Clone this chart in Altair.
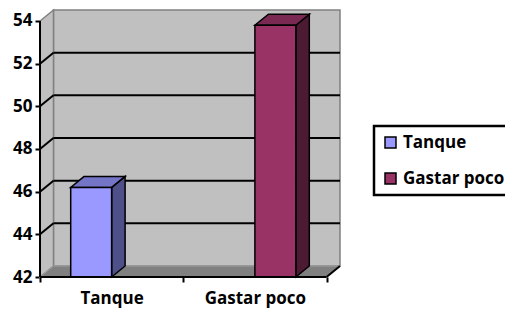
import altair as alt
import pandas as pd

# ---- data ----
categories = ["Tanque", "Gastar poco"]
series_names = ["Tanque", "Gastar poco"]
values_tanque = [46.2, None]
values_gastar = [None, 53.8]
y_ticks = [42, 44, 46, 48, 50, 52, 54]

# ---- styling ----
front_colors = ["#9999FF", "#993366"]
top_colors = ["#7575C8", "#7A2952"]
side_colors = ["#4F4F8A", "#4C1A33"]
FONT = "Open Sans"
FS = 17
Y0, Y1 = y_ticks[0], y_ticks[-1]
DX, DY = 0.094, 0.515          # 3-D depth offset (x units, value units)
GAP = 1.5                       # gap width as fraction of bar width
W, H = 300, 267
n_cat = len(categories)
n_ser = len(series_names)
bw = 1.0 / (n_ser + GAP)

rows_front, rows_side, rows_top = [], [], []
for j, (s, vals) in enumerate(zip(series_names, [values_tanque, values_gastar])):
    for i, v in enumerate(vals):
        if v is None:
            continue
        x0 = i + GAP * bw / 2 + j * bw
        x1 = x0 + bw
        key = f"{j}-{i}"
        rows_front.append(dict(serie=s, x0=x0, x1=x1, lo=Y0, v=v))
        rows_side.append(dict(k=key, fc=side_colors[j], x=x1, lo=Y0, hi=v))
        rows_side.append(dict(k=key, fc=side_colors[j], x=x1 + DX, lo=Y0 + DY, hi=v + DY))
        rows_top.append(dict(k=key, fc=top_colors[j], y=v, a=x0, b=x1))
        rows_top.append(dict(k=key, fc=top_colors[j], y=v + DY, a=x0 + DX, b=x1 + DX))

front_df = pd.DataFrame(rows_front)
side_df = pd.DataFrame(rows_side)
top_df = pd.DataFrame(rows_top)

back_df = pd.DataFrame([dict(x=DX, x2=n_cat + DX, y=Y0 + DY, y2=Y1 + DY)])
lwall_df = pd.DataFrame([dict(x=0.0, lo=Y0, hi=Y1), dict(x=DX, lo=Y0 + DY, hi=Y1 + DY)])
floor_df = pd.DataFrame([dict(y=Y0, a=0.0, b=float(n_cat)), dict(y=Y0 + DY, a=DX, b=n_cat + DX)])

grid_rows = []
for v in y_ticks[1:-1]:
    grid_rows.append(dict(x=0.0, y=v, x2=DX, y2=v + DY))
    grid_rows.append(dict(x=DX, y=v + DY, x2=n_cat + DX, y2=v + DY))
grid_df = pd.DataFrame(grid_rows)

edge_df = pd.DataFrame([
    dict(x=0.0, y=Y0, x2=0.0, y2=Y1),
    dict(x=0.0, y=Y0, x2=float(n_cat), y2=Y0),
    dict(x=float(n_cat), y=Y0, x2=n_cat + DX, y2=Y0 + DY),
])

xs = alt.Scale(domain=[0, n_cat + DX], nice=False, zero=False)
ys = alt.Scale(domain=[Y0, Y1 + DY], nice=False, zero=False)

label_expr = "".join(
    f"datum.value == {i + 0.5} ? '{c}' : " for i, c in enumerate(categories)
) + "''"
x_vals = sorted(set([float(i) for i in range(n_cat + 1)] + [i + 0.5 for i in range(n_cat)]))

x_axis = alt.Axis(
    values=x_vals, labelExpr=label_expr, title=None, grid=False, domain=False,
    tickSize=5, tickWidth=2, tickColor="black",
    tickOpacity={"condition": {"test": "datum.value % 1 === 0", "value": 1}, "value": 0},
    labelFont=FONT, labelFontWeight="bold", labelFontSize=FS, labelColor="black",
    labelPadding=8, labelAngle=0, labelFlush=False, labelOverlap=False,
)
y_axis = alt.Axis(
    values=y_ticks, title=None, grid=False, domain=False,
    tickSize=5, tickWidth=2, tickColor="black",
    labelFont=FONT, labelFontWeight="bold", labelFontSize=FS, labelColor="black",
    labelPadding=3, labelOverlap=False, labelFlush=False,
)


def X(f):
    return alt.X(f, scale=xs, axis=x_axis)


def Y(f):
    return alt.Y(f, scale=ys, axis=y_axis)


back = alt.Chart(back_df).mark_rect(fill="#C0C0C0", stroke="#808080", strokeWidth=1.5).encode(
    x=X("x:Q"), x2="x2:Q", y=Y("y:Q"), y2="y2:Q",
)
lwall = alt.Chart(lwall_df).mark_area(fill="#C0C0C0", stroke="#808080", strokeWidth=1.5).encode(
    x=X("x:Q"), y=Y("lo:Q"), y2="hi:Q",
)
grid = alt.Chart(grid_df).mark_rule(color="black", strokeWidth=2).encode(
    x=X("x:Q"), x2="x2:Q", y=Y("y:Q"), y2="y2:Q",
)
floor = alt.Chart(floor_df).mark_area(orient="horizontal", fill="#808080", stroke="#A0A0A0", strokeWidth=1).encode(
    y=Y("y:Q"), x=X("a:Q"), x2="b:Q",
)
side = alt.Chart(side_df).mark_area(stroke="black", strokeWidth=1.5).encode(
    x=X("x:Q"), y=Y("lo:Q"), y2="hi:Q",
    fill=alt.Fill("fc:N", scale=None), detail="k:N",
)
top = alt.Chart(top_df).mark_area(orient="horizontal", stroke="black", strokeWidth=1.5).encode(
    y=Y("y:Q"), x=X("a:Q"), x2="b:Q",
    fill=alt.Fill("fc:N", scale=None), detail="k:N",
)
front = alt.Chart(front_df).mark_rect(stroke="black", strokeWidth=1.5).encode(
    x=X("x0:Q"), x2="x1:Q", y=Y("lo:Q"), y2="v:Q",
    color=alt.Color(
        "serie:N",
        scale=alt.Scale(domain=series_names, range=front_colors),
        legend=alt.Legend(
            orient="none", legendX=334, legendY=116, title=None,
            symbolType="square", symbolSize=121, symbolStrokeColor="black",
            symbolStrokeWidth=1.5, symbolOpacity=1,
            labelFont=FONT, labelFontWeight="bold", labelFontSize=FS, labelColor="black",
            labelOffset=4, rowPadding=18, padding=8,
            strokeColor="black", fillColor="white",
        ),
    ),
)
edges = alt.Chart(edge_df).mark_rule(color="black", strokeWidth=2).encode(
    x=X("x:Q"), x2="x2:Q", y=Y("y:Q"), y2="y2:Q",
)

chart = alt.layer(back, lwall, grid, floor, side, top, front, edges).properties(
    width=W, height=H,
    autosize=alt.AutoSizeParams(type="none"),
    padding={"left": 32, "top": 2, "right": 165, "bottom": 35},
    background="white",
).configure_view(stroke=None).configure_legend(strokeWidth=2.5)

chart.save("out.html", embed_options={"renderer": "svg", "actions": False})
